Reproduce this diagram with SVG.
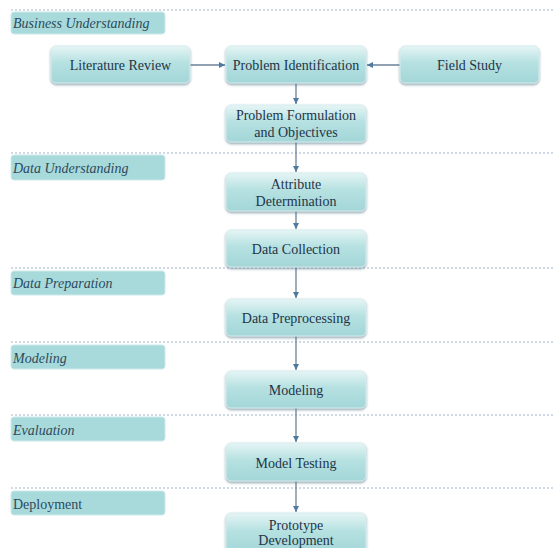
<svg xmlns="http://www.w3.org/2000/svg" width="553" height="548" viewBox="0 0 553 548" font-family="'Liberation Serif', 'Times New Roman', serif">
<defs>
<linearGradient id="ng" x1="0" y1="0" x2="0" y2="1">
<stop offset="0" stop-color="#e6f5f5"/>
<stop offset="0.45" stop-color="#b6e1e1"/>
<stop offset="1" stop-color="#a3d6d8"/>
</linearGradient>
<filter id="sh" x="-10%" y="-10%" width="120%" height="140%">
<feDropShadow dx="0" dy="1.5" stdDeviation="1" flood-color="#4a6e80" flood-opacity="0.6"/>
</filter>
<marker id="ah" viewBox="0 0 6 6" refX="6" refY="3" markerWidth="6" markerHeight="6" orient="auto" markerUnits="userSpaceOnUse">
<path d="M0,0 L6,3 L0,6 z" fill="#4f7aa0"/>
</marker>
</defs>
<style>
.sep{stroke:#9fb6cc;stroke-width:1.2;stroke-dasharray:2,2;fill:none}
.lab rect{fill:#a8dadb;stroke:#cde9ea;stroke-width:1}
.lab text{font-style:italic;font-size:14px;fill:#2d4a5e}
.node rect{fill:url(#ng);stroke:#d6ecee;stroke-width:1;filter:url(#sh)}
.node text{font-size:14px;fill:#1f3548;text-anchor:middle}
.conn line{stroke:#6b8299;stroke-width:1.3;marker-end:url(#ah)}
</style>
<rect width="553" height="548" fill="#ffffff"/>
<g id="separators">
<line class="sep" x1="11" y1="10" x2="553" y2="10"/>
<line class="sep" x1="11" y1="153" x2="553" y2="153"/>
<line class="sep" x1="11" y1="268" x2="553" y2="268"/>
<line class="sep" x1="11" y1="342" x2="553" y2="342"/>
<line class="sep" x1="11" y1="415" x2="553" y2="415"/>
<line class="sep" x1="11" y1="488" x2="553" y2="488"/>
</g>
<g id="lab-business" class="lab"><rect x="11" y="12" width="154" height="22" rx="3"/><text x="13" y="28">Business Understanding</text></g>
<g id="lab-data" class="lab"><rect x="11" y="155" width="154" height="25" rx="3"/><text x="13" y="173">Data Understanding</text></g>
<g id="lab-prep" class="lab"><rect x="11" y="271" width="154" height="24" rx="3"/><text x="13" y="288">Data Preparation</text></g>
<g id="lab-model" class="lab"><rect x="11" y="345" width="154" height="24" rx="3"/><text x="13" y="363">Modeling</text></g>
<g id="lab-eval" class="lab"><rect x="11" y="417" width="154" height="24" rx="3"/><text x="13" y="435">Evaluation</text></g>
<g id="lab-deploy" class="lab"><rect x="11" y="491" width="154" height="24" rx="3"/><text x="13" y="509" style="font-style:normal">Deployment</text></g>

<g id="conns" class="conn">
<line x1="190" y1="65" x2="225" y2="65"/>
<line x1="400" y1="65" x2="367" y2="65"/>
<line x1="296" y1="83" x2="296" y2="104"/>
<line x1="296" y1="142" x2="296" y2="172"/>
<line x1="296" y1="211" x2="296" y2="229"/>
<line x1="296" y1="267" x2="296" y2="298"/>
<line x1="296" y1="336" x2="296" y2="370"/>
<line x1="296" y1="408" x2="296" y2="442"/>
<line x1="296" y1="481" x2="296" y2="512"/>
</g>

<g id="n-lit" class="node"><rect x="51" y="46" width="139" height="37" rx="5"/><text x="120.5" y="70">Literature Review</text></g>
<g id="n-pid" class="node"><rect x="226" y="46" width="140" height="37" rx="5"/><text x="296" y="70">Problem Identification</text></g>
<g id="n-field" class="node"><rect x="400" y="46" width="139" height="37" rx="5"/><text x="469.5" y="70">Field Study</text></g>
<g id="n-pform" class="node"><rect x="226" y="105" width="140" height="37" rx="5"/><text x="296" y="120">Problem Formulation</text><text x="296" y="137">and Objectives</text></g>
<g id="n-attr" class="node"><rect x="226" y="173" width="140" height="38" rx="5"/><text x="296" y="189">Attribute</text><text x="296" y="206">Determination</text></g>
<g id="n-coll" class="node"><rect x="226" y="230" width="140" height="37" rx="5"/><text x="296" y="254">Data Collection</text></g>
<g id="n-prep" class="node"><rect x="226" y="299" width="140" height="37" rx="5"/><text x="296" y="323">Data Preprocessing</text></g>
<g id="n-model" class="node"><rect x="226" y="371" width="140" height="37" rx="5"/><text x="296" y="395">Modeling</text></g>
<g id="n-test" class="node"><rect x="226" y="443" width="140" height="38" rx="5"/><text x="296" y="468">Model Testing</text></g>
<g id="n-proto" class="node"><rect x="226" y="513" width="140" height="40" rx="5"/><text x="296" y="530">Prototype</text><text x="296" y="545">Development</text></g>
</svg>
